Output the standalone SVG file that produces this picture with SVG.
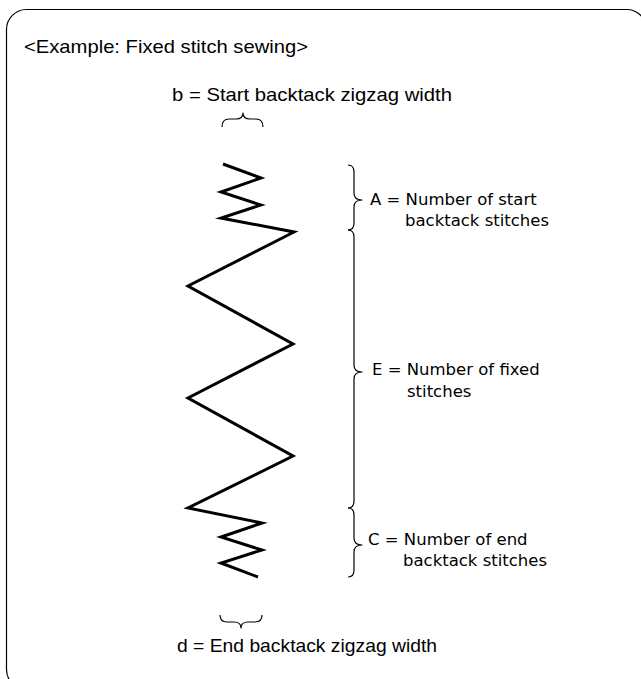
<svg xmlns="http://www.w3.org/2000/svg" width="641" height="679" viewBox="0 0 641 679">
  <style>
    .frame { fill: #ffffff; stroke: #000000; stroke-width: 1.2; }
    .stitch { fill: none; stroke: #000000; stroke-width: 3; stroke-linejoin: miter; stroke-miterlimit: 10; }
    .brace { fill: none; stroke: #000000; stroke-width: 1.2; stroke-linejoin: round; }
    .t1 { font-family: "Liberation Sans", Arial, sans-serif; font-size: 19px; fill: #000000; }
    .t2 { font-family: "DejaVu Sans", Verdana, sans-serif; font-size: 16.5px; fill: #000000; }
  </style>
  <rect width="641" height="679" fill="#ffffff"/>
  <rect class="frame" x="6.5" y="9.5" width="640" height="680" rx="20" ry="20"/>

  <g id="title">
    <text class="t1" x="24" y="53" textLength="284" lengthAdjust="spacingAndGlyphs">&lt;Example: Fixed stitch sewing&gt;</text>
  </g>

  <g id="stitch-line">
    <polyline class="stitch" points="223,164 261,178 221,192 261,205 221,218 294,232 188,286 293,344 188,398 293,456 188,508 262,523 221,537 262,550 221,563 258,577"/>
  </g>

  <g id="label-b">
    <text class="t1" x="172" y="101" textLength="280" lengthAdjust="spacingAndGlyphs">b = Start backtack zigzag width</text>
  </g>
  <g id="label-d">
    <text class="t1" x="177" y="652" textLength="260" lengthAdjust="spacingAndGlyphs">d = End backtack zigzag width</text>
  </g>
  <g id="label-A">
    <text class="t2" x="370" y="205">A = Number of start</text>
    <text class="t2" x="405" y="226">backtack stitches</text>
  </g>
  <g id="label-E">
    <text class="t2" x="372" y="375">E = Number of fixed</text>
    <text class="t2" x="407" y="397">stitches</text>
  </g>
  <g id="label-C">
    <text class="t2" x="368" y="545">C = Number of end</text>
    <text class="t2" x="403" y="566">backtack stitches</text>
  </g>

  <g id="connectors">
    <path class="brace" d="M222,127 Q222,119 229,119 L236,119 Q243,119 243,113 Q243,119 250,119 L256,119 Q263,119 263,127"/>
    <path class="brace" d="M220,615 Q220,622 227,622 L234,622 Q241,622 241,628 Q241,622 248,622 L255,622 Q262,622 262,615"/>
    <path class="brace" d="M348,165 Q354,165 354,172 L354,193 Q354,200 362,200 Q354,200 354,207 L354,223 Q354,230 348,230"/>
    <path class="brace" d="M348,230 Q354,230 354,237 L354,365 Q354,372 362,372 Q354,372 354,379 L354,501 Q354,508 348,508"/>
    <path class="brace" d="M348,508 Q354,508 354,515 L354,538 Q354,545 362,545 Q354,545 354,552 L354,570 Q354,577 348,577"/>
  </g>
</svg>
